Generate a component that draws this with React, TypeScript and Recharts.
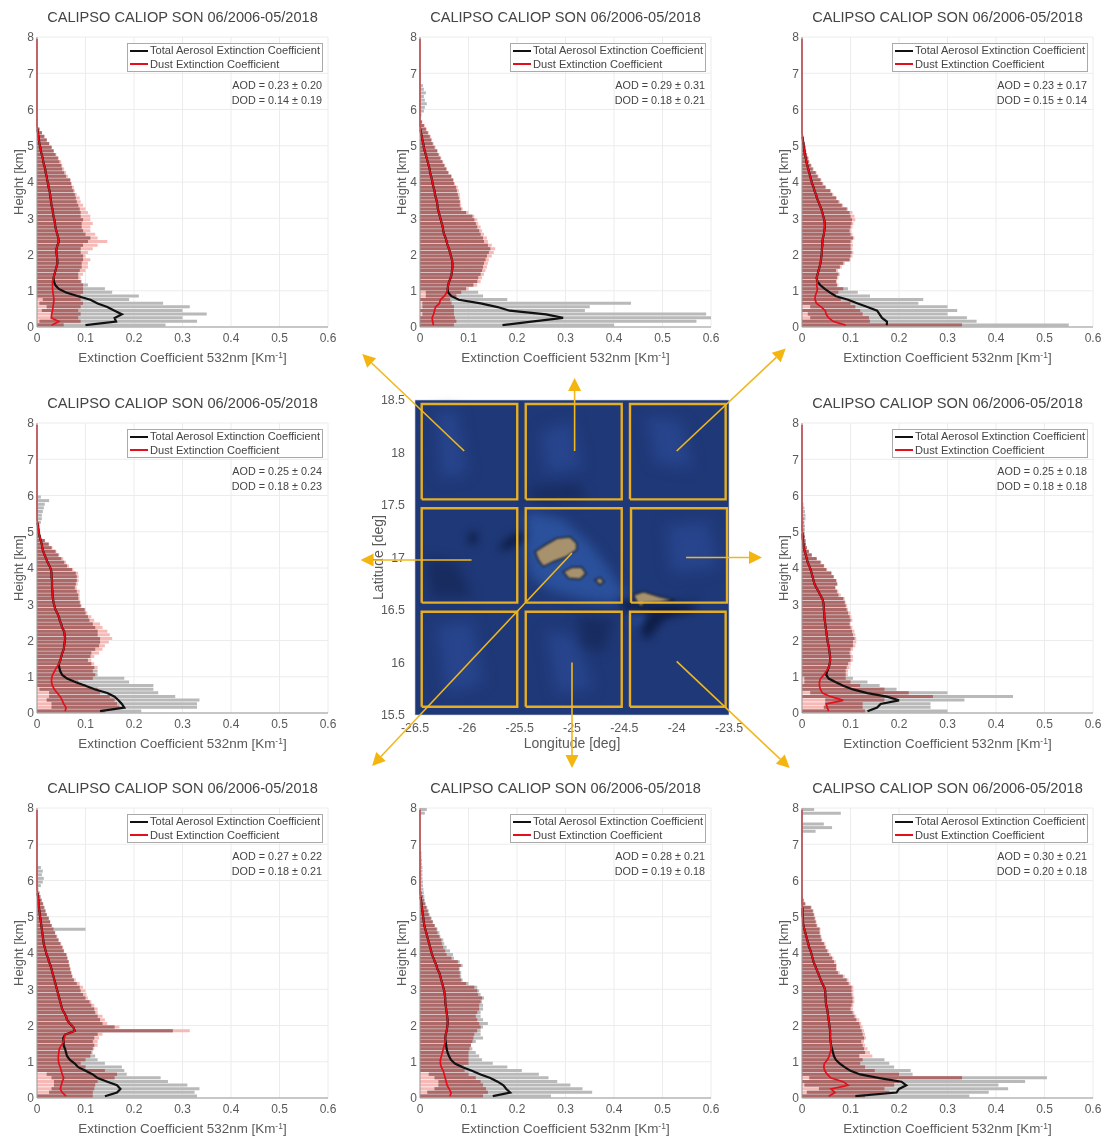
import React from "react";
import { ComposedChart, ScatterChart, Scatter, Bar, Line, XAxis, YAxis, CartesianGrid, ReferenceArea } from "recharts";

// Values in units of 1e-3 km^-1; each row is one kilometre of height, 10 levels, from the ground up.
const tlMean = [100,163,160,175,160,145,125,110,85,60, 45,38,35,34,36,38,40,42,42,41, 40,40,42,45,44,42,40,38,37,36, 34,33,32,30,29,28,27,26,24,23, 21,20,18,17,15,13,12,10,8,7, 5,4,3,2,1];
const tlDust = [30,45,30,30,32,33,34,35,34,33, 32,32,32,34,36,38,40,42,42,41];
const tlHi = [265,330,300,350,300,315,260,190,210,155, 140,105,92,85,85,88,92,92,95,95, 90,90,95,105,110,100,95,92,92,95, 90,90,88,85,82,80,78,75,72,70, 68,60,56,52,50,46,43,38,34,30, 25,20,15,10,5];
const tlDustHi = [55,90,85,90,85,90,95,90,90,95, 95,95,90,90,95,100,105,105,110,100, 105,115,125,145,125,120,110,110,115,110, 110,105,100,95,90,88,82,78,76,72, 70,64,60,56,52,50,45,40,35,30, 25,20,15,10,5];
const tlLo = [0,5,28,30,10,20,5,12];

const tcMean = [170,230,295,260,185,160,125,80,65,58, 57,58,60,63,65,66,67,67,66,64, 62,60,57,55,53,50,48,47,45,43, 41,39,37,36,35,33,31,30,28,26, 25,23,21,20,18,16,14,12,10,8, 7,5,4,2,1];
const tcDust = [28,26,25,28,30,32,40,42,50,55, 57,58,60,63,65,66,67,67,66,64];
const tcHi = [400,570,600,590,340,350,435,180,130,120, 95,110,118,120,125,128,130,132,135,138, 142,145,140,132,130,125,122,118,115,112, 108,95,85,82,82,80,78,76,74,70, 68,64,58,54,50,46,42,38,35,30, 26,23,20,16,12,8,4,0,3,8, 10,14,10,8,12,8,6];
const tcDustHi = [70,75,72,70,70,70,65,62,75,85, 100,118,125,128,132,135,138,140,142,148, 152,155,148,140,138,132,128,125,120,118, 112,100,88,85,84,83,82,80,78,72, 70,66,60,56,52,48,44,40,37,32, 28,25,22,18,14,10,5];
const tcLo = [0,0,0,5,0,5,5,0,12,12];

const trMean = [175,175,165,160,155,135,115,95,70,58, 47,38,32,30,32,34,36,38,39,40, 41,41,42,42,43,45,46,47,47,46, 44,42,40,37,34,31,29,26,24,21, 19,17,15,13,11,9,8,6,5,4, 3,2,1];
const trDust = [90,65,55,50,48,40,30,27,27,30, 32,30,32,30,32,34,36,38,39,40];
const trHi = [550,360,340,300,320,300,240,250,140,115, 95,72,70,72,75,70,78,85,98,100, 102,100,100,100,105,100,98,100,102,103, 100,98,92,82,75,70,62,58,48,42, 38,32,28,22,18,14,12,10,8,7, 5,3,1];
const trDustHi = [330,140,138,125,120,110,100,80,70,75, 85,75,72,75,78,74,82,88,100,104, 106,104,105,104,108,104,102,104,106,110, 108,104,95,85,78,72,65,60,50,44, 40,34,30,24,20,16,14,11,9,8, 6,4,2];
const trLo = [0,0,17,12,0,17];

const mlMean = [130,180,175,168,160,145,120,100,80,62, 52,48,46,45,48,50,52,55,56,57, 58,57,56,52,50,47,45,42,38,36, 34,33,32,32,31,31,31,30,30,29, 26,22,19,16,13,11,10,8,6,4, 3,2,1];
const mlDust = [58,60,55,52,48,42,36,32,30,30, 32,36,40,45,48,50,52,55,56,57];
const mlHi = [215,330,330,335,285,250,240,240,190,180, 125,125,118,112,105,110,112,120,128,130, 130,125,125,120,115,108,105,100,98,90, 88,85,85,82,78,80,82,82,80,72, 62,56,50,44,38,30,24,16,8,7, 6,6,8,10,10,12,14,16,25,8];
const mlDustHi = [140,170,165,160,150,130,125,100,85,115, 120,115,125,118,112,118,128,135,140,148, 155,150,145,135,130,118,112,104,100,92, 90,88,88,88,82,84,86,86,85,75, 66,60,54,46,40,32,25,16,8,5, 3,2,1];
const mlLo = [0,30,30,20,25,25,5];

const mrMean = [135,155,162,200,175,135,105,85,70,55, 50,52,55,57,58,58,57,56,55,53, 52,51,50,49,48,47,46,46,45,45, 44,42,38,34,30,26,24,22,20,18, 15,12,10,8,6,4,3,2,1,1];
const mrDust = [55,52,50,85,60,42,38,36,36,38, 45,50,55,57,58,58,57,56,55,53];
const mrHi = [300,265,265,335,435,300,195,160,135,105, 90,90,92,95,100,100,98,100,105,105, 108,105,103,100,98,100,98,95,92,90, 88,85,75,72,68,72,70,65,60,50, 45,38,30,20,14,10,8,7,6,6, 6,6,5,7,7,6,5,3];
const mrDustHi = [130,125,125,170,270,220,170,120,100,90, 95,95,98,100,105,105,102,105,110,112, 112,110,108,104,100,104,102,100,95,93, 90,88,80,75,70,74,72,66,62,52, 46,40,30,20,14,10,8,7,6,4, 3,3,3,3,2,2,1];
const mrLo = [0,45,48,48,0,17,0,0,5,5];

const blMean = [140,165,172,165,145,125,115,100,85,78, 68,62,60,58,55,55,54,58,78,75, 68,62,60,56,52,50,48,46,44,42, 40,38,36,34,32,30,28,25,23,20, 18,16,14,13,12,11,10,9,8,7, 6,5,4,3,3,2,1];
const blDust = [60,52,48,50,52,55,52,50,48,45, 44,44,45,46,50,55,56,58,78,75];
const blHi = [330,325,335,310,270,255,185,180,175,140, 125,120,112,115,118,115,118,125,280,160, 135,130,125,120,118,112,108,100,95,90, 88,82,76,72,70,68,66,65,62,60, 55,52,48,44,40,37,100,30,27,24, 20,18,16,13,10,8,6,3,8,12, 14,10,12,8];
const blDustHi = [115,115,118,120,125,160,165,140,100,90, 100,110,115,118,125,125,128,135,315,170, 145,140,135,125,125,118,112,105,102,100, 95,88,80,74,72,70,68,66,64,62, 56,54,50,45,42,38,34,30,27,24, 20,17,14,12,9,6,3];
const blLo = [0,25,30,35,35,30,20];

const bcMean = [150,186,178,172,160,145,125,107,88,72, 64,60,57,55,54,53,52,53,55,56, 57,57,56,55,54,53,52,52,51,50, 48,46,44,42,40,36,34,31,28,25, 23,21,19,17,15,13,11,9,8,7, 6,5,4,3,2,1];
const bcDust = [62,64,60,56,54,52,50,48,44,42, 42,44,46,48,50,52,52,53,55,56];
const bcHi = [270,355,335,310,283,265,245,210,180,150, 128,122,115,108,105,115,130,125,125,130, 140,130,125,125,130,130,128,132,125,122, 118,100,88,85,85,82,88,82,70,68, 62,55,50,48,42,40,36,30,27,24, 20,18,15,12,10,9,8,7,6,6, 5,5,5,5,4,4,3,3,0,0, 0,0,0,0,0,0,0,0,10,14];
const bcDustHi = [130,140,136,130,125,115,100,92,90,100, 100,100,100,102,105,108,110,112,118,125, 122,118,115,118,122,122,125,128,120,118, 112,95,85,82,82,80,84,78,65,55, 52,48,45,44,40,36,34,30,26,22, 18,16,13,10,8,6,4,2,1,1];
const bcLo = [0,15,30,38,38,30,18];

const brMean = [110,195,200,215,205,160,120,100,88,78, 70,66,64,62,60,59,58,58,58,57, 56,55,54,53,52,50,49,49,48,48, 46,42,39,36,33,30,27,24,22,20, 18,15,13,11,9,7,5,3,2,2, 1,1,1];
const brDust = [55,68,60,95,85,60,52,47,45,46, 52,56,58,60,60,59,58,58,58,57];
const brHi = [345,385,425,405,460,505,228,224,190,180, 170,118,130,128,125,122,128,125,123,120, 118,112,108,104,100,102,104,104,102,102, 102,96,92,84,74,70,70,66,62,56, 52,48,45,40,38,36,36,30,28,26, 24,22,18,6,3,1,0,0,0,0, 0,0,0,0,0,0,0,0,0,0, 0,0,0,28,62,45,0,0,80,25];
const brDustHi = [130,180,170,190,200,330,200,150,130,120, 125,145,140,135,130,128,132,130,128,125, 122,118,112,108,105,106,108,108,106,106, 106,100,96,88,78,72,72,70,65,60, 55,50,48,42,40,38,38,32,30,28, 26,24,20,8,4,2,1];
const brLo = [0,10,35,5,0,15];

const heights = [
  .05,.15,.25,.35,.45,.55,.65,.75,.85,.95, 1.05,1.15,1.25,1.35,1.45,1.55,1.65,1.75,1.85,1.95,
  2.05,2.15,2.25,2.35,2.45,2.55,2.65,2.75,2.85,2.95, 3.05,3.15,3.25,3.35,3.45,3.55,3.65,3.75,3.85,3.95,
  4.05,4.15,4.25,4.35,4.45,4.55,4.65,4.75,4.85,4.95, 5.05,5.15,5.25,5.35,5.45,5.55,5.65,5.75,5.85,5.95,
  6.05,6.15,6.25,6.35,6.45,6.55,6.65,6.75,6.85,6.95, 7.05,7.15,7.25,7.35,7.45,7.55,7.65,7.75,7.85,7.95,
];

const xTicks = [0, 0.1, 0.2, 0.3, 0.4, 0.5, 0.6];
const yTicks = [0, 1, 2, 3, 4, 5, 6, 7, 8];
const TITLE = "CALIPSO CALIOP SON 06/2006-05/2018";
const TOTAL_NAME = "Total Aerosol Extinction Coefficient";
const DUST_NAME = "Dust Extinction Coefficient";

const buildRows = (mean: number[], dust: number[], hi: number[], dustHi: number[], lo: number[]) =>
  heights.map((h, i) => {
    const tLo = (lo[i] ?? 0) / 1000;
    const tHi = (hi[i] ?? 0) / 1000;
    const dHi = (dustHi[i] ?? 0) / 1000;
    const overlapHi = Math.max(tLo, Math.min(tHi, dHi));
    const m = mean[i] ? mean[i] / 1000 : null;
    const d = dust[i] !== undefined ? dust[i] / 1000 : m ?? 0;
    return { h, total: m, dust: d, grayRange: [tLo, tHi], pinkRange: [0, dHi], brownRange: [tLo, overlapHi] };
  });

const panels = [
  { col: 0, row: 0, aod: "AOD = 0.23 ± 0.20", dod: "DOD = 0.14 ± 0.19", rows: buildRows(tlMean, tlDust, tlHi, tlDustHi, tlLo) },
  { col: 1, row: 0, aod: "AOD = 0.29 ± 0.31", dod: "DOD = 0.18 ± 0.21", rows: buildRows(tcMean, tcDust, tcHi, tcDustHi, tcLo) },
  { col: 2, row: 0, aod: "AOD = 0.23 ± 0.17", dod: "DOD = 0.15 ± 0.14", rows: buildRows(trMean, trDust, trHi, trDustHi, trLo) },
  { col: 0, row: 1, aod: "AOD = 0.25 ± 0.24", dod: "DOD = 0.18 ± 0.23", rows: buildRows(mlMean, mlDust, mlHi, mlDustHi, mlLo) },
  { col: 2, row: 1, aod: "AOD = 0.25 ± 0.18", dod: "DOD = 0.18 ± 0.18", rows: buildRows(mrMean, mrDust, mrHi, mrDustHi, mrLo) },
  { col: 0, row: 2, aod: "AOD = 0.27 ± 0.22", dod: "DOD = 0.18 ± 0.21", rows: buildRows(blMean, blDust, blHi, blDustHi, blLo) },
  { col: 1, row: 2, aod: "AOD = 0.28 ± 0.21", dod: "DOD = 0.19 ± 0.18", rows: buildRows(bcMean, bcDust, bcHi, bcDustHi, bcLo) },
  { col: 2, row: 2, aod: "AOD = 0.30 ± 0.21", dod: "DOD = 0.20 ± 0.18", rows: buildRows(brMean, brDust, brHi, brDustHi, brLo) },
];

// Map: lon / lat in degrees
const lonTicks = [-26.5, -26, -25.5, -25, -24.5, -24, -23.5];
const latTicks = [15.5, 16, 16.5, 17, 17.5, 18, 18.5];
type P = { lon: number; lat: number };
const pts = (a: number[][]): P[] => a.map(([lon, lat]) => ({ lon, lat }));

const boxes = [
  [-26.436, -25.523, 17.554, 18.462], [-25.442, -24.525, 17.554, 18.462], [-24.446, -23.532, 17.554, 18.462],
  [-26.436, -25.523, 16.57, 17.469], [-25.442, -24.525, 16.57, 17.469], [-24.436, -23.519, 16.57, 17.469],
  [-26.436, -25.523, 15.579, 16.484], [-25.442, -24.525, 15.579, 16.484], [-24.446, -23.532, 15.579, 16.484],
];
const mottleLight = [
  pts([[-26.3,18.4],[-26.1,18.4],[-26.0,17.8],[-26.25,17.75]]),
  pts([[-25.3,18.2],[-25.0,18.3],[-24.9,17.85],[-25.25,17.8]]),
  pts([[-24.3,18.35],[-23.95,18.3],[-23.85,17.85],[-24.2,17.9]]),
  pts([[-26.3,16.35],[-25.95,16.4],[-25.85,15.8],[-26.2,15.7]]),
  pts([[-25.25,16.3],[-24.95,16.25],[-24.8,15.75],[-25.15,15.7]]),
  pts([[-24.1,17.3],[-23.7,17.35],[-23.6,16.9],[-24.05,16.85]]),
];
const mottleDark = [
  pts([[-26.4,17.0],[-26.1,16.95],[-25.95,16.62],[-26.35,16.62]]),
  pts([[-25.45,17.65],[-24.95,17.7],[-24.85,17.55],[-25.35,17.52]]),
  pts([[-24.95,16.45],[-24.6,16.42],[-24.7,16.1],[-24.9,16.15]]),
];
const lightPatches = [
  pts([[-25.43,17.45],[-25.08,17.36],[-24.83,17.13],[-24.64,16.88],[-24.48,16.63],[-24.48,16.56],[-24.89,16.6],[-25.21,16.69],[-25.4,16.82],[-25.46,17.13]]),
  pts([[-24.41,16.56],[-24.26,16.5],[-24.32,16.31],[-24.41,16.37]]),
];
const darkPatches = [
  pts([[-25.7,17.1],[-25.59,17.2],[-25.45,17.25],[-25.46,17.17],[-25.56,17.1],[-25.67,17.07]]),
  pts([[-26.0,17.2],[-25.93,17.26],[-25.9,17.18],[-25.95,17.1]]),
  pts([[-24.57,16.6],[-24.2,16.56],[-23.9,16.56],[-23.78,16.5],[-24.1,16.44],[-24.5,16.5]]),
  pts([[-24.35,16.31],[-24.26,16.47],[-23.94,16.53],[-23.78,16.66],[-23.84,16.6],[-24.1,16.44],[-24.29,16.21]]),
];
const islandPatches = [
  pts([[-25.353,17.056],[-25.258,17.119],[-25.146,17.183],[-25.019,17.198],[-24.955,17.135],[-24.955,17.072],[-25.051,17.008],[-25.178,16.96],[-25.274,16.913],[-25.322,16.976]]),
  pts([[-25.083,16.865],[-25.003,16.906],[-24.907,16.906],[-24.866,16.849],[-24.923,16.792],[-25.035,16.802]]),
  pts([[-24.78,16.786],[-24.732,16.811],[-24.694,16.77],[-24.732,16.738]]),
  pts([[-24.414,16.643],[-24.318,16.675],[-24.159,16.627],[-24.016,16.595],[-24.159,16.573],[-24.318,16.564],[-24.334,16.525],[-24.382,16.579]]),
];
const arrows = [
  pts([[-26.03, 18.014], [-27.004, 18.938]]),
  pts([[-24.975, 18.014], [-24.975, 18.71]]),
  pts([[-24.0, 18.014], [-22.958, 18.99]]),
  pts([[-25.96, 16.976], [-27.02, 16.976]]),
  pts([[-25.0, 17.043], [-26.91, 15.014]]),
  pts([[-23.91, 17.0], [-23.185, 17.0]]),
  pts([[-25.0, 16.0], [-25.0, 14.995]]),
  pts([[-24.0, 16.01], [-22.92, 14.995]]),
];
const overlayLonDomain = [-27.2165, -22.7262];
const overlayLatDomain = [14.881, 19.0714];

const COLS = [37, 420, 802];
const ROWS = [37, 423, 808];
const PLOT_W = 291;
const PLOT_H = 290;
const GOLD = "#e6ae22";
const textColor = "#5a5a5a";
const font = "'Liberation Sans', Arial, sans-serif";

const XLabel = (p: any) => {
  const v = p.viewBox;
  return (
    <text x={v.x + v.width / 2} y={v.y + 35} textAnchor="middle" fontSize={13.4} fill={textColor} fontFamily={font}>
      Extinction Coefficient 532nm [Km
      <tspan dy={-4} fontSize={8.5}>-1</tspan>
      <tspan dy={4}>]</tspan>
    </text>
  );
};

function Panel({ col, row, aod, dod, rows }: (typeof panels)[number]) {
  const W = 340, H = 372, ML = 37, MT = 37;
  return (
    <div style={{ position: "absolute", left: COLS[col] - ML, top: ROWS[row] - MT, width: W, height: H, fontFamily: font }}>
      <ComposedChart
        width={W}
        height={H}
        data={rows}
        layout="vertical"
        barGap={-3}
        margin={{ top: MT, right: W - ML - PLOT_W, bottom: 0, left: 0 }}
      >
        <CartesianGrid stroke="#ececec" strokeWidth={1} horizontalValues={yTicks} verticalValues={xTicks} />
        <XAxis
          type="number"
          dataKey={undefined as any}
          domain={[0, 0.6]}
          ticks={xTicks}
          height={H - MT - PLOT_H}
          interval={0}
          tickLine={false}
          tickSize={0}
          tickMargin={6}
          stroke="#999"
          tick={{ fontSize: 12, fill: textColor, fontFamily: font }}
          label={{ content: XLabel } as any}
        />
        <YAxis
          type="number"
          dataKey="h"
          domain={[0, 8]}
          reversed
          ticks={yTicks}
          width={ML}
          interval={0}
          tickLine={false}
          tickSize={0}
          tickMargin={3}
          stroke="#999"
          tick={{ fontSize: 12, fill: textColor, fontFamily: font }}
          label={{ value: "Height [km]", angle: -90, position: "insideLeft", offset: 18, style: { textAnchor: "middle", fontSize: 13, fill: textColor, fontFamily: font } }}
        />
        <Bar dataKey="pinkRange" barSize={3} fill="#f7b9b6" isAnimationActive={false} />
        <Bar dataKey="grayRange" barSize={3} fill="#b9b9b9" isAnimationActive={false} />
        <Bar dataKey="brownRange" barSize={3} fill="#ad6868" isAnimationActive={false} />
        <Line dataKey="total" stroke="#111111" strokeWidth={2.2} dot={false} isAnimationActive={false} />
        <Line dataKey="dust" stroke="#e3101c" strokeWidth={1.7} dot={false} isAnimationActive={false} />
      </ComposedChart>
      <div style={{ position: "absolute", left: ML - 20, width: PLOT_W + 40, top: MT - 28, textAlign: "center", fontSize: 14.6, color: "#444", whiteSpace: "nowrap" }}>
        {TITLE}
      </div>
      <div style={{ position: "absolute", left: ML + 90, top: MT + 6, width: 194, height: 27, border: "1px solid #aaa", background: "#fff", fontSize: 11.1, color: "#444", lineHeight: "13px", whiteSpace: "nowrap" }}>
        <div style={{ display: "flex", alignItems: "center", height: 13.5 }}>
          <span style={{ display: "inline-block", marginLeft: 2, marginRight: 2, width: 18, height: 2, background: "#111" }} />
          {TOTAL_NAME}
        </div>
        <div style={{ display: "flex", alignItems: "center", height: 13.5 }}>
          <span style={{ display: "inline-block", marginLeft: 2, marginRight: 2, width: 18, height: 2, background: "#e3101c" }} />
          {DUST_NAME}
        </div>
      </div>
      <div style={{ position: "absolute", right: W - ML - PLOT_W + 6, top: MT + 41, textAlign: "right", fontSize: 10.8, color: "#444", lineHeight: "14.5px", whiteSpace: "nowrap" }}>
        <div>{aod}</div>
        <div>{dod}</div>
      </div>
    </div>
  );
}

const none = () => <g />;
const fillPath = (fill: string, blur: number, stroke?: string) => (p: any) => {
  const d = p.points.map((q: any, i: number) => `${i ? "L" : "M"}${q.x},${q.y}`).join(" ") + " Z";
  return <path d={d} fill={fill} stroke={stroke ?? "none"} strokeWidth={stroke ? 1.5 : 0} style={{ filter: `blur(${blur}px)` }} />;
};
const arrowLine = (p: any) => {
  const [a, b] = p.points;
  const ang = Math.atan2(b.y - a.y, b.x - a.x);
  const L = 13, w = 6.5;
  const bx = b.x - L * Math.cos(ang), by = b.y - L * Math.sin(ang);
  const nx = -Math.sin(ang) * w, ny = Math.cos(ang) * w;
  return (
    <g>
      <line x1={a.x} y1={a.y} x2={bx} y2={by} stroke="#f0b71e" strokeWidth={1.6} />
      <polygon points={`${b.x},${b.y} ${bx + nx},${by + ny} ${bx - nx},${by - ny}`} fill="#f5b50f" />
    </g>
  );
};

function MapPanel() {
  const L = 340, T = 340, W = 470, H = 440;
  const left = 415, right = 729, top = 400, bottom = 715;
  const labelStyle = { fontSize: 14, fill: textColor, fontFamily: font };
  return (
    <>
      <div style={{ position: "absolute", left: L, top: T, width: W, height: H, fontFamily: font }}>
        <ScatterChart width={W} height={H} margin={{ top: top - T, right: L + W - right, bottom: 0, left: 0 }}>
          <XAxis type="number" dataKey="lon" domain={[-26.5, -23.5]} ticks={lonTicks} interval={0} height={T + H - bottom} tickLine={false} axisLine={false} tickMargin={2}
            tick={{ fontSize: 12.4, fill: textColor, fontFamily: font }}
            label={{ value: "Longitude [deg]", position: "insideBottom", offset: 32, style: labelStyle }} />
          <YAxis type="number" dataKey="lat" domain={[15.5, 18.5]} ticks={latTicks} interval={0} width={left - L} tickLine={false} axisLine={false} tickMargin={4}
            tick={{ fontSize: 12.4, fill: textColor, fontFamily: font }}
            label={{ value: "Latitude [deg]", angle: -90, position: "insideLeft", offset: 38, style: { ...labelStyle, textAnchor: "middle" } }} />
          <ReferenceArea x1={-26.5} x2={-23.5} y1={15.5} y2={18.5} fill="#1f3877" fillOpacity={1} stroke="#c9d0e0" strokeWidth={0.6} />
          {mottleLight.map((d, i) => (
            <Scatter key={`ml${i}`} data={d} line={fillPath("#27448c", 7) as any} shape={none as any} isAnimationActive={false} />
          ))}
          {mottleDark.map((d, i) => (
            <Scatter key={`md${i}`} data={d} line={fillPath("#182c60", 6) as any} shape={none as any} isAnimationActive={false} />
          ))}
          {lightPatches.map((d, i) => (
            <Scatter key={`l${i}`} data={d} line={fillPath("#2b519c", 6) as any} shape={none as any} isAnimationActive={false} />
          ))}
          {darkPatches.map((d, i) => (
            <Scatter key={`d${i}`} data={d} line={fillPath("#0d1c44", 4) as any} shape={none as any} isAnimationActive={false} />
          ))}
          {islandPatches.map((d, i) => (
            <Scatter key={`i${i}`} data={d} line={fillPath("#a8926e", 1, "#1a2438") as any} shape={none as any} isAnimationActive={false} />
          ))}
          {boxes.map(([x1, x2, y1, y2], i) => (
            <Scatter key={`b${i}`} data={pts([[x1, y1], [x2, y1], [x2, y2], [x1, y2], [x1, y1]])} line={{ stroke: GOLD, strokeWidth: 2.4 }} shape={none as any} isAnimationActive={false} />
          ))}
        </ScatterChart>
      </div>
      <div style={{ position: "absolute", left: L, top: T, width: W, height: H }}>
        <ScatterChart width={W} height={H} margin={{ top: 0, right: 0, bottom: 0, left: 0 }}>
          <XAxis type="number" dataKey="lon" domain={overlayLonDomain} hide />
          <YAxis type="number" dataKey="lat" domain={overlayLatDomain} hide />
          {arrows.map((d, i) => (
            <Scatter key={`a${i}`} data={d} line={arrowLine as any} shape={none as any} isAnimationActive={false} />
          ))}
        </ScatterChart>
      </div>
    </>
  );
}

export default function App() {
  return (
    <div style={{ position: "absolute", left: 0, top: 0, width: 1107, height: 1138, background: "#fff", overflow: "hidden", filter: "blur(0.75px)" }}>
      {panels.map((p, i) => (
        <Panel key={i} {...p} />
      ))}
      <MapPanel />
    </div>
  );
}
